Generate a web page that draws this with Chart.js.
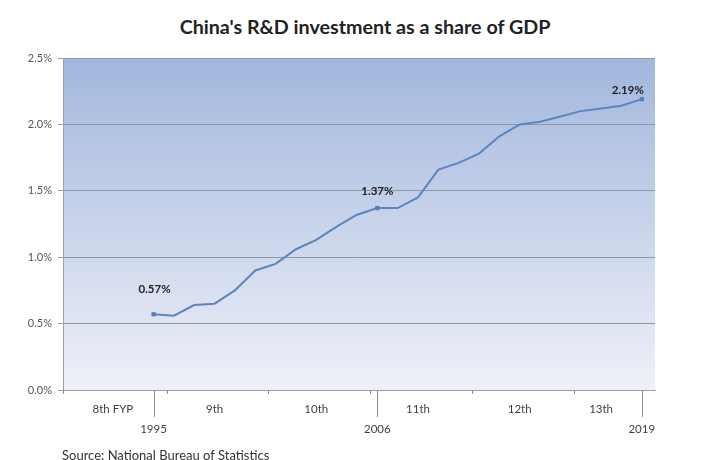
<!DOCTYPE html>
<html>
<head>
<meta charset="utf-8">
<script src="https://cdn.jsdelivr.net/npm/chart.js@4.4.1/dist/chart.umd.min.js"></script>
<style>
  body { margin: 0; background: #fff; }
  #wrap { position: relative; width: 708px; height: 460px; overflow: hidden; }
  #title {
    position: absolute; left: 0; top: 15px; width: 730px; text-align: center;
    font: bold 19.7px Lato, sans-serif; color: #222;
  }
  #source {
    position: absolute; left: 62px; top: 447px;
    font: 13px Lato, sans-serif; color: #333;
  }
  canvas { position: absolute; left: 0; top: 0; }
</style>
</head>
<body>
<div id="wrap">
  <div id="title">China's R&amp;D investment as a share of GDP</div>
  <canvas id="rd" width="708" height="460"></canvas>
  <div id="source">Source: National Bureau of Statistics</div>
</div>
<script>
// R&D 占 GDP 比重 (%)
const years = [1995, 1996, 1997, 1998, 1999, 2000, 2001, 2002, 2003, 2004, 2005, 2006,
               2007, 2008, 2009, 2010, 2011, 2012, 2013, 2014, 2015, 2016, 2017, 2018, 2019];
const shares = [0.57, 0.56, 0.64, 0.65, 0.75, 0.90, 0.95, 1.06, 1.13, 1.23, 1.32, 1.37,
                1.37, 1.45, 1.66, 1.71, 1.78, 1.91, 2.00, 2.02, 2.06, 2.10, 2.12, 2.14, 2.19];
const markedYears = [1995, 2006, 2019];

// 五年规划标签
const planLabels = ['8th FYP', '9th', '10th', '11th', '12th', '13th'];
const planLabelYears = [1993, 1998, 2003, 2008, 2013, 2017];
const planBoundaries = [1995.65, 2000.65, 2005.65, 2010.65, 2015.65];
const yTicks = [0, 0.5, 1.0, 1.5, 2.0, 2.5];

const lineBlue = '#5a86c0';

const bgPlugin = {
    id: 'bgGradient',
    beforeDraw(chart) {
        const { ctx, chartArea: a } = chart;
        const g = ctx.createLinearGradient(0, a.top, 0, a.bottom);
        g.addColorStop(0, '#a2b7de');
        g.addColorStop(1, '#eff1f8');
        ctx.save();
        ctx.fillStyle = g;
        ctx.fillRect(a.left, a.top, a.right - a.left, a.bottom - a.top);
        ctx.restore();
    }
};

const axisMarks = {
    id: 'axisMarks',
    afterDraw(chart) {
        const { ctx, chartArea: a } = chart;
        const x = chart.scales.x;
        ctx.save();
        ctx.strokeStyle = '#8c8c8c';
        ctx.lineWidth = 1;
        ctx.beginPath();
        [x.min].concat(planBoundaries).forEach(v => {
            const px = Math.round(x.getPixelForValue(v)) + 0.5;
            ctx.moveTo(px, a.bottom);
            ctx.lineTo(px, a.bottom + 4);
        });
        markedYears.forEach(v => {
            const px = Math.round(x.getPixelForValue(v)) + 0.5;
            ctx.moveTo(px, a.bottom);
            ctx.lineTo(px, a.bottom + 27);
        });
        ctx.stroke();

        // 数值标签
        const meta = chart.getDatasetMeta(0);
        const offsets = { 1995: [1, -25], 2006: [0, -17], 2019: [-14, -9] };
        ctx.font = 'bold 11.5px Lato, sans-serif';
        ctx.fillStyle = '#222';
        ctx.textAlign = 'center';
        ctx.textBaseline = 'bottom';
        markedYears.forEach(yr => {
            const i = years.indexOf(yr);
            const pt = meta.data[i];
            const o = offsets[yr];
            ctx.fillText(shares[i].toFixed(2) + '%', pt.x + o[0], pt.y + o[1] + 6);
        });
        ctx.restore();
    }
};

const xTickValues = planLabelYears.concat(markedYears).sort((a, b) => a - b);

new Chart(document.getElementById('rd'), {
    type: 'line',
    data: {
        datasets: [{
            data: years.map((y, i) => ({ x: y, y: shares[i] })),
            borderColor: lineBlue,
            backgroundColor: '#4f7fbc',
            borderWidth: 2,
            tension: 0,
            pointStyle: 'rect',
            pointRadius: ctx => markedYears.includes(years[ctx.dataIndex]) ? 3 : 0,
            pointBorderWidth: 0
        }]
    },
    options: {
        responsive: false,
        animation: false,
        layout: { padding: { top: 58, right: 53, left: 0, bottom: 0 } },
        plugins: {
            legend: { display: false },
            tooltip: { enabled: false }
        },
        scales: {
            x: {
                type: 'linear',
                min: 1990.55,
                max: 2019.65,
                grid: { display: false },
                border: { display: true, color: '#a0a0a0' },
                afterBuildTicks: s => { s.ticks = xTickValues.map(v => ({ value: v })); },
                afterFit: s => { s.height = 70; },
                ticks: {
                    autoSkip: false,
                    maxRotation: 0,
                    padding: 1,
                    color: '#3b3f48',
                    font: { family: 'Lato', size: 11.5, lineHeight: 1.75 },
                    callback: v => {
                        const p = planLabelYears.indexOf(v);
                        const top = p >= 0 ? planLabels[p] : '';
                        const bottom = markedYears.includes(v) ? String(v) : '';
                        return [top, bottom];
                    }
                }
            },
            y: {
                min: 0,
                max: 2.5,
                afterBuildTicks: s => { s.ticks = yTicks.map(v => ({ value: v })); },
                afterFit: s => { s.width = 63; },
                grid: { color: '#9097aa', tickLength: 5, tickColor: '#a0a0a0' },
                border: { display: true, color: '#a0a0a0' },
                ticks: {
                    padding: 6,
                    color: '#555',
                    font: { family: 'Lato', size: 11 },
                    callback: v => v.toFixed(1) + '%'
                }
            }
        }
    },
    plugins: [bgPlugin, axisMarks]
});
</script>
</body>
</html>
